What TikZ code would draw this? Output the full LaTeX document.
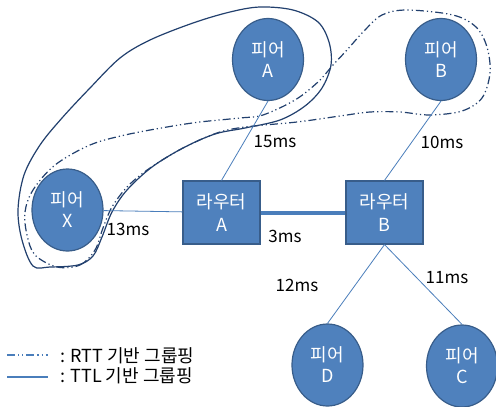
\documentclass[tikz,border=0pt]{standalone}
\usepackage{fontspec}
\setmainfont{Noto Sans CJK KR}
\usetikzlibrary{shapes.geometric}
\definecolor{nodefill}{HTML}{4F81BD}
\definecolor{nodeedge}{HTML}{385D8A}
\definecolor{linkblue}{HTML}{4A7EBB}
\definecolor{loopnavy}{HTML}{22406E}
\begin{document}
\begin{tikzpicture}[x=1pt,y=-1pt,
  peer/.style={ellipse,fill=nodefill,draw=nodeedge,line width=1.2pt,minimum width=71pt,minimum height=82pt,inner sep=0pt,text=white,align=center,font=\fontsize{18}{21}\selectfont},
  router/.style={rectangle,fill=nodefill,draw=nodeedge,line width=1.2pt,minimum width=77pt,minimum height=63pt,inner sep=0pt,text=white,align=center,font=\fontsize{18}{23}\selectfont},
  link/.style={draw=linkblue,line width=0.8pt},
  backbone/.style={draw=linkblue,line width=4pt},
  lbl/.style={font=\fontsize{17}{20}\selectfont,text=black,inner sep=0pt},
  leg/.style={font=\fontsize{18}{20}\selectfont,text=black,inner sep=0pt},
  ttl/.style={draw=loopnavy,line width=1.2pt},
  rtt/.style={draw=loopnavy,line width=1.2pt,dash pattern=on 8pt off 3pt on 1.2pt off 3pt on 1.2pt off 3pt},
  legline/.style={draw=linkblue,line width=1.2pt}]
\useasboundingbox (0,0) rectangle (496,407);
\fill[white] (0,0) rectangle (496,407);

% grouping outlines
\draw[ttl] plot[smooth cycle,tension=0.55] coordinates {
 (33,266) (22,240) (18,210) (24,175) (40,145) (62,118) (90,88) (120,58)
 (150,40) (193,23) (230,12) (260,7) (293,10) (318,22) (329,42) (331,65)
 (322,88) (305,106) (280,120) (245,128) (215,134) (183,148) (152,167)
 (127,190) (112,212) (102,237) (93,256) (78,265) (50,267)};
\draw[rtt] plot[smooth cycle,tension=0.55] coordinates {
 (57,267) (80,265) (95,250) (103,228) (112,207) (128,186) (150,168)
 (183,148) (217,133) (245,127) (297,122) (340,116) (370,112) (400,112)
 (430,115) (462,111) (482,98) (490,73) (487,47) (476,27) (453,15)
 (407,10) (382,15) (364,31) (347,50) (333,65) (318,82) (295,100)
 (263,115) (240,118) (200,122) (167,127) (125,135) (90,145) (55,165)
 (33,190) (25,212) (27,235) (35,255)};

% nodes
\node[peer] (pA) at (268,59.5) {피어\\A};
\node[peer] (pB) at (441,59.5) {피어\\B};
\node[peer] (pX) at (67.5,210) {피어\\X};
\node[peer] (pD) at (327.5,365) {피어\\D};
\node[peer] (pC) at (462,366) {피어\\C};
\node[router] (ra) at (221.5,212.5) {라우터\\A};
\node[router] (rb) at (384.5,212.5) {라우터\\B};

% connectors
\draw[link] (pX) -- (ra);
\draw[backbone] (ra.east) -- (rb.west);
\draw[link] (ra.north) -- (pA.south);
\draw[link] (rb.north) -- (pB.south);
\draw[link] (rb.south) -- (pD.north);
\draw[link] (rb.south) -- (pC.north);

% labels
\node[lbl] (l15) at (275,142) {15ms};
\node[lbl] (l10) at (442,142) {10ms};
\node[lbl] (l13) at (128,229) {13ms};
\node[lbl] (l3) at (285,236) {3ms};
\node[lbl] (l12) at (297,285) {12ms};
\node[lbl] (l11) at (447,278) {11ms};

% legend
\coordinate (r1) at (7,355);
\coordinate (r2) at (48,355);
\coordinate (t1) at (7,377);
\coordinate (t2) at (48,377);
\draw[legline,dash pattern=on 8pt off 3pt on 1.2pt off 3pt on 1.2pt off 3pt] (r1) -- (r2);
\draw[legline] (t1) -- (t2);
\node[leg,anchor=west] (legR) at (60,356) {: RTT 기반 그룹핑};
\node[leg,anchor=west] (legT) at (60,376) {: TTL 기반 그룹핑};
\end{tikzpicture}
\end{document}
